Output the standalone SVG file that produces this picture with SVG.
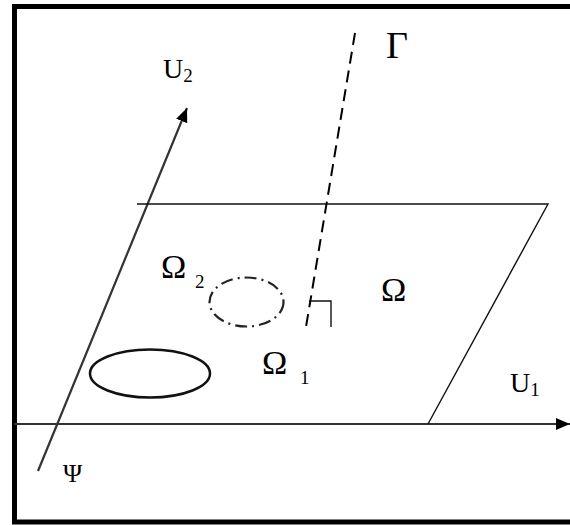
<svg xmlns="http://www.w3.org/2000/svg" width="570" height="525" viewBox="0 0 570 525">
<style>
.lbl{font-family:"Liberation Serif","Times New Roman",serif;fill:#000}
.big{font-size:34px}
.sub{font-size:19px}
.axis{stroke:#333;stroke-width:2.2;fill:none}
.thin{stroke:#111;stroke-width:1.4;fill:none}
</style>
<defs>
<marker id="arr" markerUnits="userSpaceOnUse" viewBox="0 0 14 12" refX="14" refY="6" markerWidth="14" markerHeight="12" orient="auto">
<path d="M0,0 L14,6 L0,12 z" fill="#000"/>
</marker>
</defs>
<rect x="0" y="0" width="570" height="525" fill="#fff"/>
<g id="frame">
<path d="M575,6.5 H14.5 V522 H575" fill="none" stroke="#000" stroke-width="5"/>
</g>
<g id="connectors">
<line class="axis" x1="14" y1="424" x2="570" y2="424" marker-end="url(#arr)"/>
<line class="axis" x1="38" y1="471" x2="187" y2="108" marker-end="url(#arr)"/>
<line stroke="#000" stroke-width="2" stroke-dasharray="12,7" x1="355" y1="33" x2="306" y2="327"/>
</g>
<g id="plane">
<path class="thin" d="M137,204 H548 L428,424"/>
</g>
<g id="right-angle">
<path class="thin" d="M309,301 H331 V327"/>
</g>
<g id="omega1-region">
<ellipse cx="150" cy="373.5" rx="60" ry="24" fill="none" stroke="#111" stroke-width="2.5"/>
</g>
<g id="omega2-region">
<ellipse cx="246.5" cy="302" rx="37" ry="24.5" fill="none" stroke="#222" stroke-width="2.2" stroke-dasharray="12,5,2,5"/>
</g>
<g id="labels">
<text class="lbl" x="163" y="78" font-size="28">U<tspan font-size="19" dy="4">2</tspan></text>
<text class="lbl" x="510" y="392" font-size="28">U<tspan font-size="19" dy="4">1</tspan></text>
<text class="lbl" x="386" y="58" font-size="38">Γ</text>
<text class="lbl big" x="381" y="301">Ω</text>
<text class="lbl big" x="161" y="278">Ω</text>
<text class="lbl sub" x="195" y="288">2</text>
<text class="lbl big" x="262" y="374">Ω</text>
<text class="lbl sub" x="300" y="384">1</text>
<text class="lbl" x="63" y="482" font-size="26">Ψ</text>
</g>
</svg>
